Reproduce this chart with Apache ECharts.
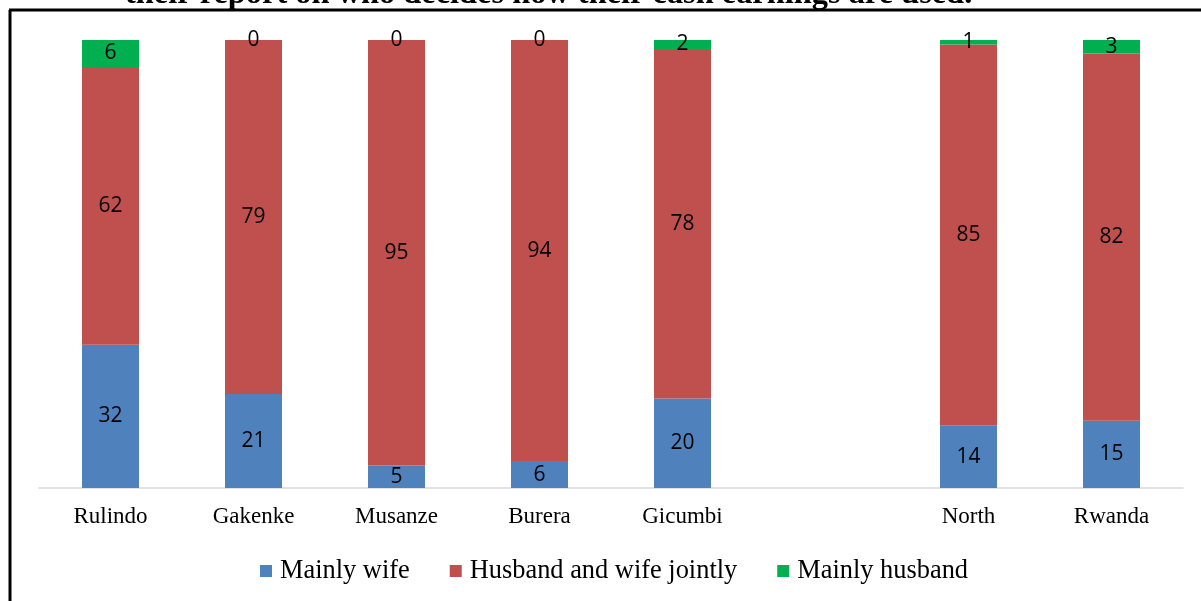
<!DOCTYPE html>
<html>
<head>
<meta charset="utf-8">
<script src="https://cdn.jsdelivr.net/npm/echarts@6/dist/echarts.min.js"></script>
<style>
html,body{margin:0;padding:0;background:#fff;}
#chart{width:1201px;height:601px;}
</style>
</head>
<body>
<div id="chart"></div>
<script>
const categories = ['Rulindo', 'Gakenke', 'Musanze', 'Burera', 'Gicumbi', '', 'North', 'Rwanda'];
const mainlyWife = [32, 21, 5, 6, 20, null, 14, 15];
const jointly = [62, 79, 95, 94, 78, null, 85, 82];
const mainlyHusband = [6, 0, 0, 0, 2, null, 1, 3];
const titleText = 'their report on who decides how their cash earnings are used.';

const chart = echarts.init(document.getElementById('chart'));
const labelStyle = {
  show: true,
  position: 'inside',
  color: '#000',
  fontFamily: '"Open Sans", "Liberation Sans", sans-serif',
  fontSize: 21
};
function mk(name, data, color) {
  return {
    name: name,
    type: 'bar',
    stack: 'total',
    data: data,
    barWidth: 57,
    itemStyle: { color: color },
    label: labelStyle,
    emphasis: { disabled: true }
  };
}
chart.setOption({
  animation: false,
  grid: { left: 39, right: 18, top: 40, bottom: 113 },
  xAxis: {
    type: 'category',
    data: categories,
    axisLine: { lineStyle: { color: '#d9d9d9', width: 1.5 } },
    axisTick: { show: false },
    axisLabel: {
      color: '#000',
      fontFamily: '"Liberation Serif", "Times New Roman", serif',
      fontSize: 23,
      margin: 17
    }
  },
  yAxis: { type: 'value', min: 0, max: 100, show: false, splitLine: { show: false } },
  legend: {
    left: 255,
    top: 553,
    itemWidth: 12,
    itemHeight: 12,
    itemGap: 40,
    icon: 'rect',
    textStyle: {
      color: '#000',
      fontFamily: '"Liberation Serif", "Times New Roman", serif',
      fontSize: 26.4,
      padding: [0, 0, 0, 3]
    },
    data: ['Mainly wife', 'Husband and wife jointly', 'Mainly husband']
  },
  graphic: [
    { type: 'line', shape: { x1: 10, y1: 10, x2: 10, y2: 601 }, style: { stroke: '#000', lineWidth: 3 } },
    { type: 'line', shape: { x1: 9, y1: 10, x2: 1201, y2: 10 }, style: { stroke: '#000', lineWidth: 3 } },
    { type: 'text', left: 125, top: -21, style: { text: titleText, font: 'bold 32.4px "Liberation Serif", "Times New Roman", serif', fill: '#000' } }
  ],
  series: [
    mk('Mainly wife', mainlyWife, '#4F81BD'),
    mk('Husband and wife jointly', jointly, '#C0504D'),
    mk('Mainly husband', mainlyHusband, '#00B050')
  ]
});
</script>
</body>
</html>
